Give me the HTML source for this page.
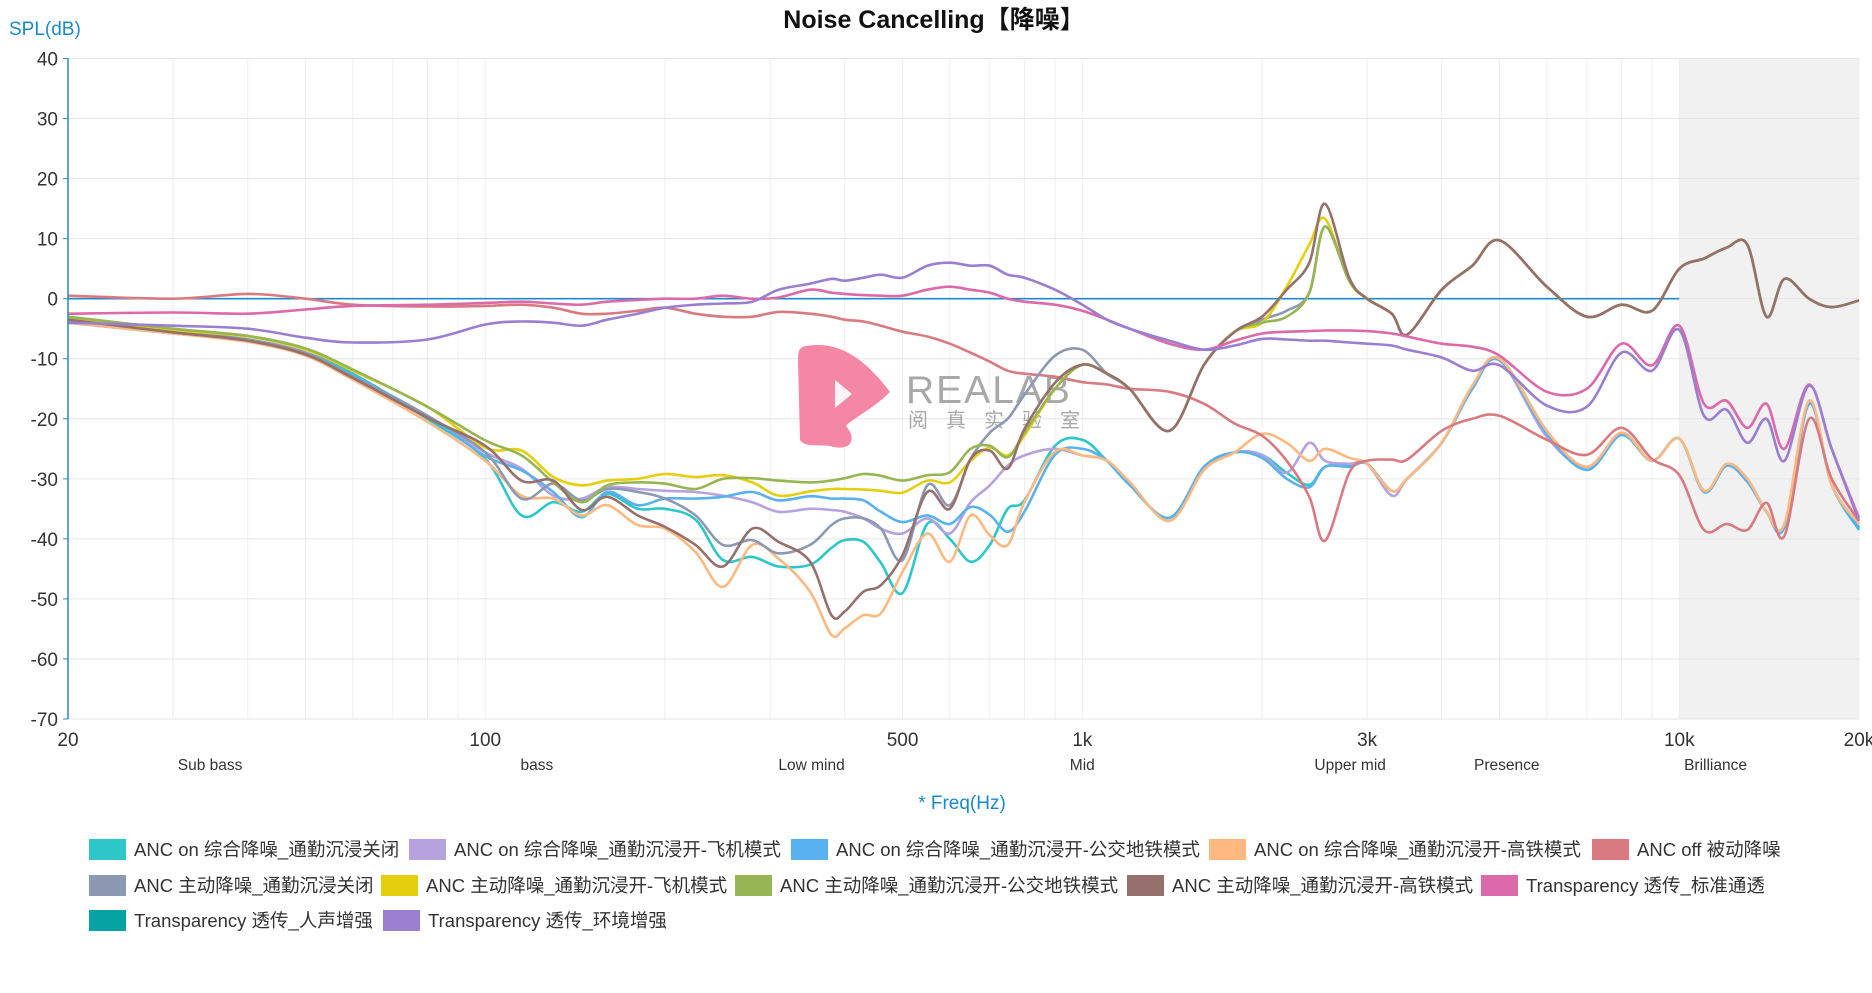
<!DOCTYPE html>
<html><head><meta charset="utf-8"><style>
html,body{margin:0;padding:0;background:#fff;}
body{width:1872px;height:993px;position:relative;overflow:hidden;font-family:"Liberation Sans","Noto Sans CJK SC",sans-serif;}
.lg{position:absolute;height:22px;display:flex;align-items:center;font-size:18.5px;color:#333;white-space:nowrap;}
.lg i{display:inline-block;width:37px;height:21px;margin-right:8px;}
</style></head><body>
<svg id="chart" width="1872" height="993" style="position:absolute;left:0;top:0" xmlns="http://www.w3.org/2000/svg">
<text x="934" y="28" text-anchor="middle" font-size="25" font-weight="bold" fill="#111" font-family="Liberation Sans, Noto Sans CJK SC, sans-serif">Noise Cancelling【降噪】</text>
<text x="9" y="35" font-size="19" fill="#1a8ac8" font-family="Liberation Sans, sans-serif">SPL(dB)</text>
<text x="962" y="809" text-anchor="middle" font-size="19" fill="#1a8ac8" font-family="Liberation Sans, sans-serif">* Freq(Hz)</text>
<g id="grid"></g>
<g id="wm">
<path d="M806 346 C840 340 866 360 890 392 C872 410 850 420 846 426 C858 440 850 452 830 446 C816 444 806 448 800 440 L798 360 C798 350 800 347 806 346 Z" fill="#f47a9c" opacity="0.9"/>
<path d="M835 380 L852 394 L835 408 Z" fill="#fff" opacity="0.9"/>
<text x="906" y="403" font-size="39" fill="#9a9a9a" opacity="0.85" font-family="Liberation Sans, sans-serif" letter-spacing="2">REALAB</text>
<text x="908" y="427" font-size="20" fill="#9a9a9a" opacity="0.85" font-family="Noto Sans CJK SC, sans-serif" letter-spacing="18">阅真实验室</text>
</g>
<g id="series"></g>
<g id="axes"></g>
</svg>
<div id="legend"></div>
<script>
const freqs=[20,30,40,50,60,80,100,115,130,145,160,180,200,225,250,280,310,350,380,400,430,460,500,550,600,650,700,750,800,900,1000,1100,1200,1400,1600,1800,2000,2200,2400,2550,2800,3000,3300,3500,4000,4500,5000,6000,7000,8000,9000,10000,11000,12000,13000,14000,15000,16500,18000,20000];
const ancOnOff=[-4,-5.8,-7,-9,-12.5,-20,-26.7,-36.1,-33.9,-35.5,-32.5,-35,-35,-36.8,-43.5,-43,-44.6,-44.3,-41.5,-40.2,-40.5,-44,-49,-37.5,-40,-43.8,-41,-35,-33.6,-24.5,-23.5,-27,-31,-36.5,-28,-25.6,-26,-29,-31,-28,-27.8,-27.5,-32,-30,-24,-15,-10,-22,-28.5,-22.7,-27,-23.3,-32.2,-27.8,-30,-35.5,-38,-17.5,-31,-38.5];
const ancOnPlane=[-3.5,-5.5,-6.8,-9,-13,-19.5,-25.6,-28.3,-32.8,-33.3,-31.4,-31.7,-32,-32.2,-32.8,-33.9,-35.5,-35,-35.2,-35.5,-36.6,-38.3,-39.1,-36.6,-39.1,-33.9,-31.1,-27.8,-26.1,-25,-26.1,-27,-31,-36.5,-28.5,-25.6,-26,-29,-24,-27,-27.5,-27.5,-32.8,-30,-24,-15,-10.3,-23,-28,-22.5,-27,-23.3,-32,-27.8,-30.5,-35.5,-38,-17.5,-31,-38];
const ancOnBus=[-4,-5.6,-6.8,-9,-12.8,-19.5,-26.2,-28.6,-32.2,-36.4,-32.2,-34.4,-33.3,-33.3,-33,-32.2,-33.6,-32.9,-33.3,-33.3,-33.6,-35.5,-37.2,-36.1,-37.5,-34.7,-36,-38.8,-35.5,-26,-25,-27,-31,-36.5,-28,-25.6,-26.5,-30,-31.4,-28,-28,-27.5,-32,-30,-24,-15,-10.2,-22.5,-28.5,-22.7,-27,-23.3,-32.2,-27.8,-30.5,-35.5,-38,-17.5,-31,-38.2];
const ancOnTrain=[-4,-5.8,-7.2,-9.5,-13.5,-20.5,-27,-32.8,-33.3,-36.1,-34.4,-37.7,-38.3,-42.2,-48,-41,-43.3,-48.8,-56,-54.9,-52.7,-52.4,-45.5,-39.1,-43.8,-36.1,-39.4,-41,-33.9,-25.5,-26.1,-27,-30.5,-37,-28.5,-25.6,-22.5,-24,-27,-25,-26.5,-27.5,-32,-30,-24,-14.5,-10,-22,-28,-22.3,-27,-23.3,-32,-27.5,-30,-35.5,-37.5,-17,-31,-37.5];
const ancOffPassive=[0.5,0,0.8,0,-1,-1.3,-1.2,-1,-1.5,-2.5,-2.5,-2,-1.5,-2.5,-3,-3,-2.2,-2.5,-3,-3.5,-3.8,-4.5,-5.5,-6.3,-7.5,-9,-10.5,-12,-12.5,-13,-13.9,-14.3,-15,-15.5,-17.5,-20.8,-22.8,-27,-33,-40.3,-29,-27,-26.8,-26.8,-22,-20,-19.5,-23.5,-26,-21.5,-26.7,-29.4,-38.5,-37.5,-38.5,-34,-39.5,-20,-30,-37];
const activeOff=[-3.5,-5.5,-6.8,-9,-13,-19.5,-25.6,-33.3,-30.8,-33.6,-31.7,-32.2,-33.3,-36.1,-41,-40.2,-42.4,-41,-37.7,-36.6,-36.6,-38.3,-43.5,-31.1,-34.4,-26.7,-22.3,-20,-16,-9.5,-8.5,-12.5,-15,-22,-11,-5.5,-3.5,-2,1,12,3,0,-2.5,-6,1.5,5.5,9.7,2,-3,-1,-2,5,6.7,8.5,9,-3,3.3,0,-1.4,-0.3];
const activePlane=[-3.2,-5.2,-6.3,-8.5,-12,-18,-24.8,-25.3,-29.7,-31.1,-30.3,-30,-29.2,-29.7,-29.4,-30.6,-32.8,-32.1,-31.7,-31.7,-31.8,-32,-32.3,-30.3,-30.6,-27,-24.8,-26.1,-22.8,-15,-11,-12.5,-15,-22,-11,-5.5,-4,2,9,13.3,3,0,-2.5,-6,1.5,5.5,9.7,2,-3,-1,-2,5,6.7,8.5,9,-3,3.3,0,-1.4,-0.3];
const activeBus=[-3,-5,-6.2,-8.3,-11.8,-18,-23.6,-26.1,-30.6,-33.9,-31.1,-30.6,-30.8,-31.7,-30,-29.9,-30.3,-30.6,-30.3,-29.9,-29.2,-29.5,-30.3,-29.4,-28.9,-25,-24.5,-26.4,-22.3,-15,-11,-12.5,-15,-22,-11,-5.5,-4,-3,1,12,3,0,-2.5,-6,1.5,5.5,9.7,2,-3,-1,-2,5,6.7,8.5,9,-3,3.3,0,-1.4,-0.3];
const activeTrain=[-3.5,-5.6,-7,-9.3,-13.2,-19.8,-24.5,-30.3,-30.3,-35.2,-33,-36.1,-38,-41,-44.6,-38.3,-40.5,-43.8,-52.7,-52.1,-48.8,-47.7,-42.7,-32.2,-35,-26.7,-25.3,-28.3,-21.7,-14,-11,-12.5,-15,-22,-11,-5.5,-3,1.5,6,15.8,3.5,0,-2.5,-6,1.5,5.5,9.7,2,-3,-1,-2,5,6.7,8.5,9,-3,3.3,0,-1.4,-0.3];
const transStandard=[-2.5,-2.3,-2.5,-1.8,-1.2,-1,-0.7,-0.5,-0.8,-1,-0.5,-0.2,0,0,0.5,0,0.2,1.5,1,0.8,0.6,0.5,0.5,1.5,2,1.5,1,0,-0.5,-1,-2,-3.5,-5,-7.5,-8.5,-7,-5.8,-5.5,-5.4,-5.3,-5.3,-5.4,-5.8,-6.3,-7.5,-8,-9.5,-15.5,-15,-7.5,-11.1,-4.5,-17.5,-17,-21.5,-17.5,-25,-14.3,-25,-36.5];
const transAmbient=[-4,-4.5,-5,-6.5,-7.3,-6.8,-4.3,-3.8,-4,-4.5,-3.5,-2.5,-1.5,-1,-0.8,-0.5,1.5,2.5,3.3,3,3.5,4,3.5,5.5,6,5.5,5.5,4,3.5,1.5,-1,-3.5,-5,-7,-8.5,-7.8,-6.7,-6.8,-7,-7,-7.3,-7.5,-7.8,-8.5,-9.8,-12,-11.1,-17.8,-18,-9,-12,-5.2,-19.5,-18.5,-24,-20,-27,-14.5,-25,-37];
const yTicks=[40,30,20,10,0,-10,-20,-30,-40,-50,-60,-70];
const xTickFreqs=[20,100,500,1000,3000,10000,20000];
const xTickLabels=["20","100","500","1k","3k","10k","20k"];
const bandFreqs=[34.6,122,352,1000,2810,5140,11500];
const bandLabels=["Sub bass","bass","Low mind","Mid","Upper mid","Presence","Brilliance"];
const seriesNames=["ANC on 综合降噪_通勤沉浸关闭","ANC on 综合降噪_通勤沉浸开-飞机模式","ANC on 综合降噪_通勤沉浸开-公交地铁模式","ANC on 综合降噪_通勤沉浸开-高铁模式","ANC off 被动降噪","ANC 主动降噪_通勤沉浸关闭","ANC 主动降噪_通勤沉浸开-飞机模式","ANC 主动降噪_通勤沉浸开-公交地铁模式","ANC 主动降噪_通勤沉浸开-高铁模式","Transparency 透传_标准通透","Transparency 透传_人声增强","Transparency 透传_环境增强"];
const seriesColors=["#2ec7c9","#b6a2de","#5ab1ef","#ffb980","#d87a80","#8d98b3","#e5cf0d","#97b552","#95706d","#dc69aa","#07a2a4","#9a7fd1"];
const seriesData=[ancOnOff,ancOnPlane,ancOnBus,ancOnTrain,ancOffPassive,activeOff,activePlane,activeBus,activeTrain,transStandard,null,transAmbient];

const L=68,R=1859,T=58.5,B=719,DEC=(R-L)/3;
function xs(f){return L+DEC*Math.log10(f/20);}
function ys(v){return T+(40-v)*(B-T)/110;}
const NS="http://www.w3.org/2000/svg";
function mk(tag,attrs,parent){const e=document.createElementNS(NS,tag);for(const k in attrs)e.setAttribute(k,attrs[k]);parent.appendChild(e);return e;}
const grid=document.getElementById('grid'),axes=document.getElementById('axes'),ser=document.getElementById('series');
const shade=mk('rect',{x:xs(10000),y:T,width:R-xs(10000),height:B-T,fill:'#f1f1f1'},grid);


for(let d=10;d<=10000;d*=10){for(let m=1;m<10;m++){const f=d*m;if(f<20||f>20000)continue;const x=xs(f);
 const g=mk('line',{x1:x,x2:x,y1:T,y2:B,stroke:'#eeeeee','stroke-width':1},grid);
 
 }}
yTicks.forEach(v=>{const y=ys(v);
 const g=mk('line',{x1:L,x2:R,y1:y,y2:y,stroke:'#e6e6e6','stroke-width':1},grid);
 
 
 const tk=mk('line',{x1:L-5,x2:L,y1:y,y2:y,stroke:'#2a8ab8','stroke-width':1},axes);
 
 
 const t=mk('text',{x:L-10,y:y+7,'text-anchor':'end','font-size':19,fill:'#333','font-family':'Liberation Sans, sans-serif'},axes);
 t.textContent=v;
 
 });
const ax=mk('line',{x1:L,x2:L,y1:T,y2:B,stroke:'#2a8ab8','stroke-width':1.5},axes);


const zl=mk('line',{x1:L,x2:xs(10000),y1:ys(0),y2:ys(0),stroke:'#1e88c8','stroke-width':1.6},grid);


xTickFreqs.forEach((f,i)=>{const t=mk('text',{x:xs(f),y:746,'text-anchor':'middle','font-size':19,fill:'#333','font-family':'Liberation Sans, sans-serif'},axes);
 t.textContent=xTickLabels[i];
 
 });
bandFreqs.forEach((f,i)=>{const t=mk('text',{x:xs(f),y:770,'text-anchor':'middle','font-size':15.5,fill:'#333','font-family':'Liberation Sans, sans-serif'},axes);
 t.textContent=bandLabels[i];
 
 });
function pathFor(vals){const p=freqs.map((f,i)=>[xs(f),ys(vals[i])]);let d='M'+p[0][0].toFixed(1)+','+p[0][1].toFixed(1);
 for(let i=0;i<p.length-1;i++){const p0=p[Math.max(0,i-1)],p1=p[i],p2=p[i+1],p3=p[Math.min(p.length-1,i+2)];
  const c1=[p1[0]+(p2[0]-p0[0])/6,p1[1]+(p2[1]-p0[1])/6],c2=[p2[0]-(p3[0]-p1[0])/6,p2[1]-(p3[1]-p1[1])/6];
  d+='C'+c1[0].toFixed(1)+','+c1[1].toFixed(1)+' '+c2[0].toFixed(1)+','+c2[1].toFixed(1)+' '+p2[0].toFixed(1)+','+p2[1].toFixed(1);}
 return d;}
seriesData.forEach((vals,i)=>{if(!vals)return;
 const pth=mk('path',{d:pathFor(vals),fill:'none',stroke:seriesColors[i],'stroke-width':2.6,'stroke-linejoin':'round'},ser);
 
 });
const legPos=[[89,849],[409,849],[791,849],[1209,849],[1592,849],[89,885],[381,885],[735,885],[1127,885],[1481,885],[89,920],[383,920]];
const legend=document.getElementById('legend');
seriesNames.forEach((n,i)=>{const d=document.createElement('div');d.className='lg';
 d.style.left=legPos[i][0]+'px';d.style.top=(legPos[i][1]-11)+'px';
 d.innerHTML='<i style="background:'+seriesColors[i]+'"></i>'+n;
 
 
 legend.appendChild(d);});
</script>
</body></html>
